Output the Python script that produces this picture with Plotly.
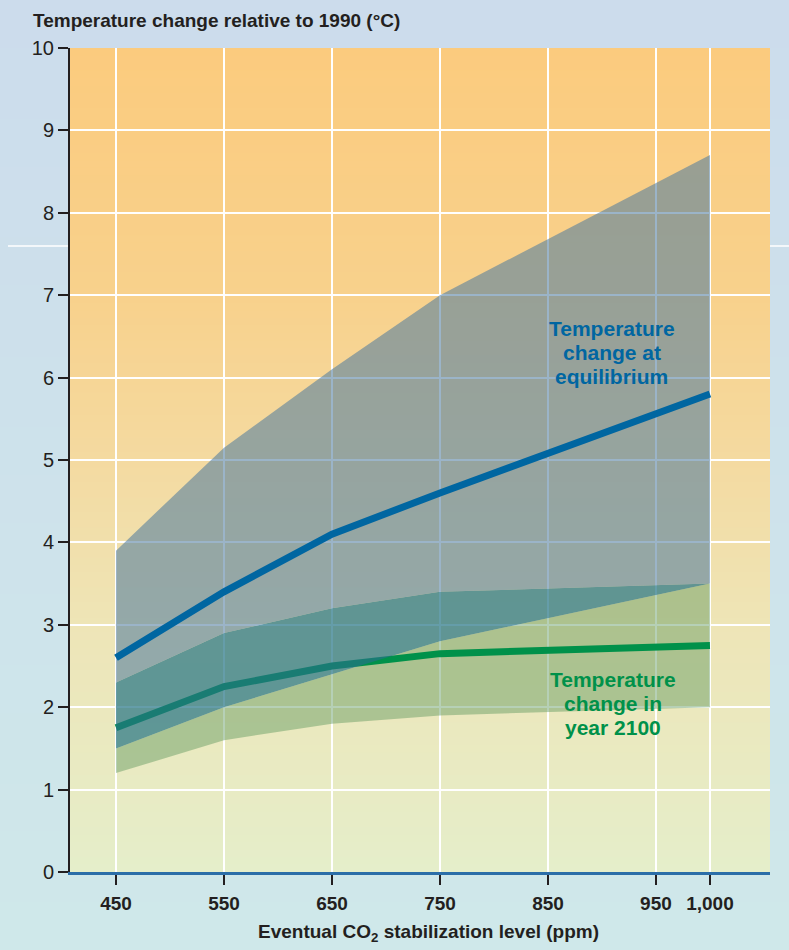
import plotly.graph_objects as go

# CO2 stabilization levels (ppm)
co2_ppm = [450, 550, 650, 750, 1000]

# Temperature change at equilibrium (°C): range and central estimate
equilibrium_low = [1.5, 2.0, 2.4, 2.8, 3.5]
equilibrium_high = [3.9, 5.15, 6.1, 7.0, 8.7]
equilibrium_mid = [2.6, 3.4, 4.1, 4.6, 5.8]

# Temperature change in year 2100 (°C): range and central estimate
year2100_low = [1.2, 1.6, 1.8, 1.9, 2.0]
year2100_high = [2.3, 2.9, 3.2, 3.4, 3.5]
year2100_mid = [1.75, 2.25, 2.5, 2.65, 2.75]

# Axis ticks
x_tickvals = [450, 550, 650, 750, 850, 950, 1000]
x_ticktext = ["450", "550", "650", "750", "850", "950", "1,000"]
y_tickvals = list(range(0, 11))

FONT = "Liberation Sans, Arial, Helvetica, sans-serif"
BLUE = "#0066a1"
GREEN = "#00914a"
DARK = "#231f20"

W, H = 789, 950
ML, MR, MT, MB = 70, 19, 48, 78
PW, PH = W - ML - MR, H - MT - MB


def lerp_stops(stops, t):
    """Interpolate an RGB colour from (position, (r, g, b)) stops, t in [0, 1]."""
    for (p0, c0), (p1, c1) in zip(stops[:-1], stops[1:]):
        if p0 <= t <= p1:
            f = 0 if p1 == p0 else (t - p0) / (p1 - p0)
            c = [round(a + (b - a) * f) for a, b in zip(c0, c1)]
            return f"rgb({c[0]},{c[1]},{c[2]})"
    c = stops[-1][1]
    return f"rgb({c[0]},{c[1]},{c[2]})"


shapes = []

# page background: pale blue at the top fading to pale cyan at the bottom
page_stops = [(0.0, (207, 232, 234)), (1.0, (204, 220, 236))]
n_page = 40
y_bot, y_top = -MB / PH, 1 + MT / PH
x_left, x_right = -ML / PW, 1 + MR / PW
for i in range(n_page):
    t0 = i / n_page
    t1 = (i + 1.6) / n_page
    shapes.append(dict(
        type="rect", xref="paper", yref="paper", layer="below",
        x0=x_left, x1=x_right,
        y0=y_bot + (y_top - y_bot) * t0, y1=min(y_top, y_bot + (y_top - y_bot) * t1),
        fillcolor=lerp_stops(page_stops, (i + 0.5) / n_page), line=dict(width=0),
    ))

# thin white rule across the page margins
for xa, xb in [(-62 / PW, 0), (1, x_right)]:
    shapes.append(dict(
        type="line", xref="paper", yref="paper", layer="below",
        x0=xa, x1=xb, y0=(H - 246 - MB) / PH, y1=(H - 246 - MB) / PH,
        line=dict(color="white", width=1.5),
    ))

# plot area: pale yellow-green at 0 °C warming to orange at 10 °C
plot_stops = [
    (0.0, (229, 238, 202)),
    (0.3, (238, 229, 183)),
    (0.5, (244, 218, 160)),
    (0.7, (248, 209, 140)),
    (1.0, (251, 203, 126)),
]
n_plot = 110
for i in range(n_plot):
    shapes.append(dict(
        type="rect", xref="paper", yref="paper", layer="below",
        x0=0, x1=1, y0=i / n_plot, y1=min(1, (i + 1.6) / n_plot),
        fillcolor=lerp_stops(plot_stops, (i + 0.5) / n_plot), line=dict(width=0),
    ))

fig = go.Figure()


def add_band(lower, upper, color):
    fig.add_trace(go.Scatter(
        x=co2_ppm, y=lower, mode="lines", line=dict(width=0),
        showlegend=False, hoverinfo="skip",
    ))
    fig.add_trace(go.Scatter(
        x=co2_ppm, y=upper, mode="lines", line=dict(width=0),
        fill="tonexty", fillcolor=color, showlegend=False, hoverinfo="skip",
    ))


# 2100 range below the equilibrium range
add_band(year2100_low, equilibrium_low, "rgba(93,150,94,0.45)")
fig.add_trace(go.Scatter(
    x=co2_ppm, y=year2100_mid, mode="lines",
    line=dict(color=GREEN, width=7), showlegend=False,
))
# where both ranges overlap
add_band(equilibrium_low, year2100_high, "rgba(35,116,132,0.70)")
# equilibrium range above the 2100 range
add_band(year2100_high, equilibrium_high, "rgba(79,123,158,0.57)")
fig.add_trace(go.Scatter(
    x=co2_ppm, y=equilibrium_mid, mode="lines",
    line=dict(color=BLUE, width=7), showlegend=False,
))


def add_label(lines, x, y, color, step=24):
    n = len(lines)
    for i, line in enumerate(lines):
        fig.add_annotation(
            x=x, y=y, xref="x", yref="y", text=f"<b>{line}</b>",
            showarrow=False, xanchor="center", yanchor="middle",
            yshift=((n - 1) / 2 - i) * step,
            font=dict(family=FONT, size=21, color=color),
        )


add_label(["Temperature", "change at", "equilibrium"], 909, 6.31, BLUE)
add_label(["Temperature", "change in", "year 2100"], 910, 2.04, GREEN)

# chart title and x-axis title
fig.add_annotation(
    x=(31 - ML) / PW, y=(H - MB - 21) / PH, xref="paper", yref="paper",
    text="<b>Temperature change relative to 1990 (°C)</b>", showarrow=False,
    xanchor="left", yanchor="middle",
    font=dict(family=FONT, size=19, color=DARK),
)
fig.add_annotation(
    x=(428 - ML) / PW, y=(H - MB - 933) / PH, xref="paper", yref="paper",
    text="<b>Eventual CO<sub>2</sub> stabilization level (ppm)</b>", showarrow=False,
    xanchor="center", yanchor="middle",
    font=dict(family=FONT, size=19, color=DARK),
)

fig.update_layout(
    width=W, height=H,
    margin=dict(l=ML, r=MR, t=MT, b=MB, pad=0),
    paper_bgcolor="rgb(205,226,235)",
    plot_bgcolor="rgba(0,0,0,0)",
    shapes=shapes,
    showlegend=False,
    xaxis=dict(
        range=[407.4, 1055.6], tickvals=x_tickvals, ticktext=x_ticktext,
        showgrid=True, gridcolor="white", gridwidth=2, zeroline=False,
        showline=True, linecolor="#2b6ea8", linewidth=3,
        ticks="outside", ticklen=10, tickwidth=2, tickcolor=DARK,
        ticklabelstandoff=2,
        tickfont=dict(family=FONT, size=19, color=DARK, weight="bold"),
    ),
    yaxis=dict(
        range=[0, 10], tickvals=y_tickvals,
        showgrid=True, gridcolor="white", gridwidth=2, zeroline=False,
        showline=True, linecolor=DARK, linewidth=2,
        ticks="outside", ticklen=10, tickwidth=2, tickcolor=DARK,
        tickfont=dict(family=FONT, size=20, color=DARK),
    ),
)

fig.write_html("out.html")
